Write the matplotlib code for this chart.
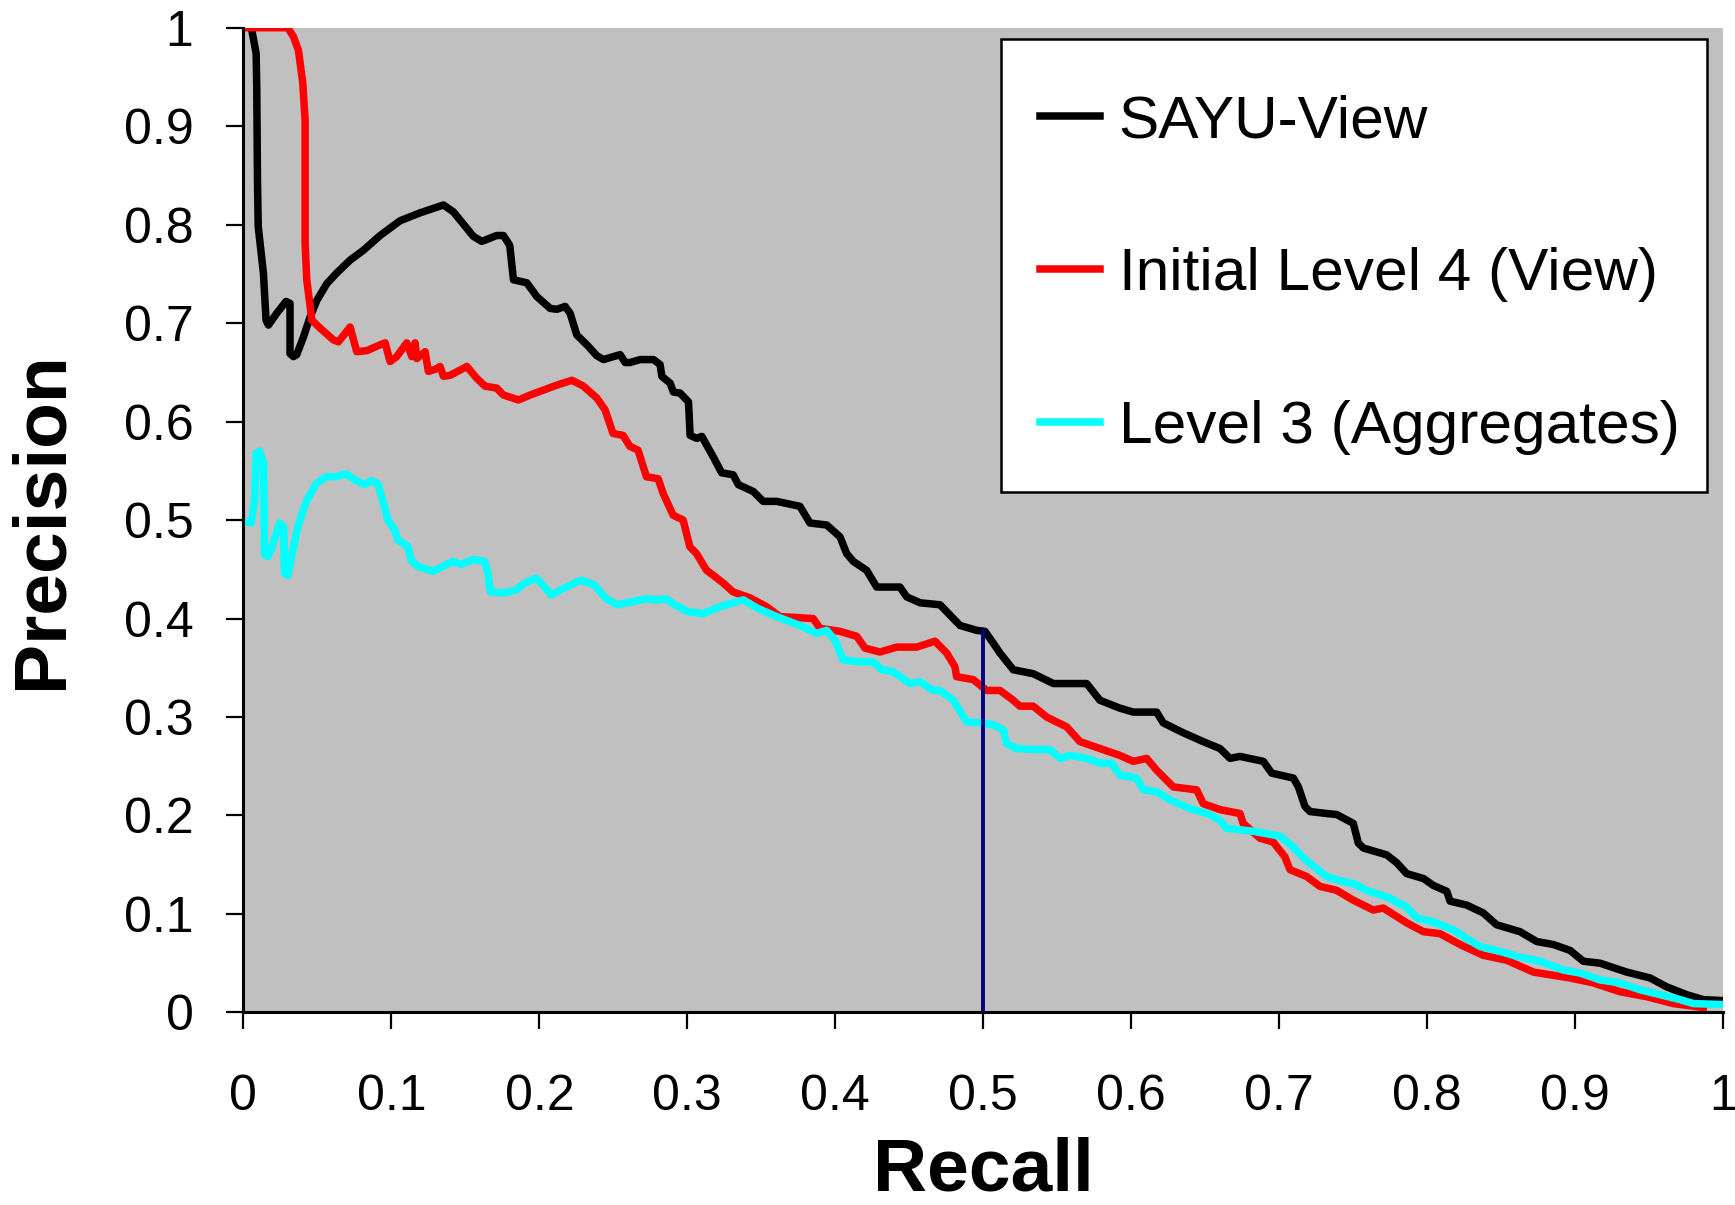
"""
Precision-recall curves: SAYU-View vs. Initial Level 4 (View) vs. Level 3 (Aggregates).
"""
import numpy as np
import matplotlib
matplotlib.use("Agg")
import matplotlib.pyplot as plt
from matplotlib.patches import Rectangle

plt.rcParams["font.family"] = ["Liberation Sans", "DejaVu Sans"]

# SAYU-View (black)
sayu_recall = [
    0.0045, 0.0056, 0.0086, 0.009, 0.0095, 0.010, 0.0135, 0.0153, 0.0169, 0.0225,
    0.0288, 0.0315, 0.0315, 0.0338, 0.036, 0.0406, 0.045, 0.0496, 0.0563, 0.0631,
    0.0721, 0.0811, 0.0924, 0.1059, 0.1194, 0.1352, 0.1419, 0.1555, 0.1611, 0.1712,
    0.1757, 0.180, 0.1825, 0.1915, 0.1983, 0.2073, 0.2118, 0.2174, 0.2208, 0.2253,
    0.2321, 0.2388, 0.2433, 0.2546, 0.258, 0.2613, 0.2681, 0.2771, 0.2816, 0.2828,
    0.2884, 0.2906, 0.2951, 0.3008, 0.3019, 0.3064, 0.3098, 0.3176, 0.3232, 0.331,
    0.3345, 0.3446, 0.3513, 0.3604, 0.3761, 0.3829, 0.3942, 0.4032, 0.4077, 0.4122,
    0.4212, 0.428, 0.4437, 0.4483, 0.4573, 0.4708, 0.4753, 0.4843, 0.4956, 0.5012,
    0.5068, 0.5113, 0.5203, 0.5338, 0.5474, 0.5699, 0.5789, 0.5924, 0.6014, 0.6172,
    0.6217, 0.6352, 0.6487, 0.66, 0.6668, 0.6735, 0.6893, 0.695, 0.7096, 0.713,
    0.7175, 0.7209, 0.7321, 0.7389, 0.7501, 0.7535, 0.7569, 0.7727, 0.7795, 0.7862,
    0.7975, 0.8042, 0.8133, 0.8155, 0.8268, 0.838, 0.847, 0.8628, 0.8741, 0.8853,
    0.8966, 0.9056, 0.9169, 0.9349, 0.9507, 0.9619, 0.9755, 0.9867, 1.0,
]
sayu_precision = [
    1.0, 0.998, 0.974, 0.940, 0.845, 0.798, 0.751, 0.703, 0.698, 0.710,
    0.722, 0.720, 0.669, 0.666, 0.668, 0.686, 0.706, 0.723, 0.740, 0.751,
    0.764, 0.774, 0.789, 0.804, 0.812, 0.820, 0.813, 0.788, 0.783, 0.789,
    0.789, 0.779, 0.744, 0.741, 0.727, 0.715, 0.714, 0.717, 0.710, 0.688,
    0.678, 0.667, 0.663, 0.668, 0.660, 0.660, 0.663, 0.663, 0.658, 0.646,
    0.639, 0.630, 0.629, 0.620, 0.586, 0.583, 0.585, 0.564, 0.548, 0.546,
    0.536, 0.529, 0.519, 0.519, 0.514, 0.497, 0.495, 0.483, 0.466, 0.458,
    0.449, 0.432, 0.432, 0.422, 0.416, 0.414, 0.407, 0.393, 0.388, 0.387,
    0.375, 0.365, 0.348, 0.344, 0.334, 0.334, 0.317, 0.309, 0.305, 0.305,
    0.294, 0.284, 0.275, 0.268, 0.258, 0.260, 0.255, 0.243, 0.238, 0.229,
    0.209, 0.204, 0.202, 0.201, 0.192, 0.172, 0.167, 0.160, 0.152, 0.141,
    0.136, 0.129, 0.123, 0.113, 0.109, 0.101, 0.089, 0.082, 0.072, 0.069,
    0.063, 0.052, 0.050, 0.041, 0.035, 0.026, 0.018, 0.013, 0.012,
]

# Initial Level 4 (View) (red)
view_recall = [
    0.0, 0.03, 0.0338, 0.0372, 0.0401, 0.0417, 0.0417, 0.0428, 0.0451, 0.0462,
    0.0518, 0.0608, 0.0642, 0.0721, 0.0766, 0.0834, 0.0924, 0.0958, 0.0991, 0.1036,
    0.1104, 0.1138, 0.116, 0.1172, 0.1228, 0.125, 0.1295, 0.1329, 0.1352, 0.1397,
    0.151, 0.1577, 0.1633, 0.1712, 0.1757, 0.1859, 0.1938, 0.2028, 0.2118, 0.2219,
    0.2298, 0.2388, 0.2444, 0.2498, 0.2566, 0.2611, 0.2667, 0.2724, 0.2803, 0.2837,
    0.2904, 0.2972, 0.3017, 0.3062, 0.3130, 0.3175, 0.3243, 0.331, 0.3424, 0.3536,
    0.3626, 0.3851, 0.3897, 0.4032, 0.4145, 0.4201, 0.4302, 0.4415, 0.455, 0.4674,
    0.4753, 0.4809, 0.482, 0.4933, 0.5023, 0.5113, 0.5203, 0.5248, 0.5338, 0.5429,
    0.5564, 0.5654, 0.5789, 0.5924, 0.6014, 0.6105, 0.6172, 0.6285, 0.6443, 0.6487,
    0.66, 0.6735, 0.6757, 0.687, 0.696, 0.7039, 0.7073, 0.7186, 0.7276, 0.7389,
    0.7501, 0.7636, 0.7704, 0.7862, 0.7975, 0.8087, 0.8222, 0.838, 0.8538, 0.8718,
    0.8966, 0.9124, 0.9304, 0.9484, 0.9664, 0.9867,
]
view_precision = [
    1.0, 1.0, 0.991, 0.977, 0.944, 0.906, 0.781, 0.744, 0.717, 0.703,
    0.695, 0.683, 0.681, 0.696, 0.671, 0.672, 0.678, 0.680, 0.661, 0.666,
    0.680, 0.666, 0.680, 0.664, 0.671, 0.651, 0.653, 0.656, 0.646, 0.647,
    0.656, 0.644, 0.636, 0.634, 0.627, 0.622, 0.627, 0.632, 0.637, 0.642,
    0.636, 0.624, 0.612, 0.588, 0.586, 0.575, 0.571, 0.544, 0.542, 0.527,
    0.505, 0.500, 0.473, 0.466, 0.449, 0.444, 0.436, 0.427, 0.421, 0.412,
    0.402, 0.400, 0.390, 0.387, 0.382, 0.370, 0.366, 0.371, 0.371, 0.377,
    0.365, 0.351, 0.341, 0.338, 0.327, 0.327, 0.317, 0.311, 0.311, 0.300,
    0.290, 0.275, 0.268, 0.261, 0.255, 0.258, 0.246, 0.229, 0.226, 0.212,
    0.206, 0.202, 0.192, 0.177, 0.173, 0.158, 0.145, 0.138, 0.128, 0.124,
    0.114, 0.104, 0.106, 0.091, 0.082, 0.080, 0.069, 0.058, 0.053, 0.041,
    0.035, 0.030, 0.021, 0.016, 0.009, 0.005,
]

# Level 3 (Aggregates) (cyan)
agg_recall = [
    0.0019, 0.0053, 0.0076, 0.0087, 0.011, 0.0136, 0.0143, 0.0166, 0.0188, 0.0245,
    0.0272, 0.0278, 0.0301, 0.0335, 0.0368, 0.0425, 0.0492, 0.056, 0.0627, 0.0695,
    0.074, 0.0819, 0.0864, 0.0909, 0.0954, 0.0977, 0.1022, 0.1044, 0.1112, 0.1134,
    0.1179, 0.128, 0.1348, 0.1416, 0.1472, 0.1551, 0.163, 0.1653, 0.1669, 0.1754,
    0.1844, 0.19, 0.1979, 0.2024, 0.2081, 0.2182, 0.2283, 0.2373, 0.2452, 0.2531,
    0.2621, 0.2723, 0.279, 0.2858, 0.2914, 0.3004, 0.3106, 0.3221, 0.3378, 0.348,
    0.3604, 0.3761, 0.3874, 0.3942, 0.3998, 0.4054, 0.4167, 0.4257, 0.4314, 0.4392,
    0.4505, 0.4573, 0.4662, 0.4708, 0.4798, 0.4888, 0.5001, 0.5068, 0.5136, 0.5158,
    0.5226, 0.5338, 0.5451, 0.5519, 0.5586, 0.5699, 0.5789, 0.5868, 0.5924, 0.6037,
    0.6082, 0.6172, 0.6262, 0.6397, 0.6532, 0.66, 0.6645, 0.6825, 0.7006, 0.7096,
    0.7163, 0.7254, 0.7321, 0.7434, 0.7501, 0.7592, 0.7749, 0.7862, 0.793, 0.8042,
    0.8177, 0.8268, 0.8357, 0.8493, 0.8606, 0.8763, 0.8921, 0.9034, 0.9169, 0.9304,
    0.9439, 0.9575, 0.971, 0.9799, 1.0,
]
agg_precision = [
    0.498, 0.497, 0.520, 0.568, 0.570, 0.558, 0.465, 0.463, 0.470, 0.497,
    0.493, 0.446, 0.444, 0.470, 0.493, 0.519, 0.537, 0.544, 0.544, 0.547,
    0.542, 0.536, 0.540, 0.537, 0.513, 0.500, 0.490, 0.480, 0.473, 0.459,
    0.453, 0.448, 0.453, 0.458, 0.455, 0.460, 0.458, 0.446, 0.427, 0.426,
    0.429, 0.436, 0.441, 0.434, 0.424, 0.432, 0.439, 0.434, 0.420, 0.414,
    0.417, 0.420, 0.419, 0.420, 0.414, 0.407, 0.405, 0.412, 0.419, 0.410,
    0.402, 0.393, 0.385, 0.388, 0.378, 0.358, 0.356, 0.356, 0.348, 0.346,
    0.334, 0.336, 0.327, 0.327, 0.317, 0.295, 0.294, 0.292, 0.287, 0.273,
    0.268, 0.267, 0.267, 0.258, 0.261, 0.258, 0.253, 0.253, 0.241, 0.238,
    0.226, 0.224, 0.216, 0.207, 0.201, 0.195, 0.187, 0.184, 0.179, 0.168,
    0.157, 0.146, 0.138, 0.133, 0.131, 0.124, 0.116, 0.107, 0.096, 0.092,
    0.084, 0.075, 0.067, 0.062, 0.057, 0.052, 0.043, 0.040, 0.033, 0.030,
    0.023, 0.018, 0.013, 0.009, 0.008,
]

# marker line at recall = 0.5
marker_recall = 0.5
marker_top = 0.387

ticks = [0, 0.1, 0.2, 0.3, 0.4, 0.5, 0.6, 0.7, 0.8, 0.9, 1]
tick_labels = ["0", "0.1", "0.2", "0.3", "0.4", "0.5", "0.6", "0.7", "0.8", "0.9", "1"]

fig = plt.figure(figsize=(17.35, 12.05), dpi=100)
ax = fig.add_axes([0.1403, 0.1598, 0.8528, 0.8172])
ax.set_facecolor("#C0C0C0")

lw = 5.4
ax.plot(sayu_recall, sayu_precision, color="black", lw=lw, label="SAYU-View")
ax.plot(view_recall, view_precision, color="#FF0000", lw=lw, label="Initial Level 4 (View)")
ax.plot(agg_recall, agg_precision, color="#00FFFF", lw=lw, label="Level 3 (Aggregates)")
ax.plot([marker_recall, marker_recall], [0, marker_top], color="#000080", lw=2.8)

ax.set_xlim(0, 1)
ax.set_ylim(0, 1)
ax.set_xticks(ticks)
ax.set_xticklabels(tick_labels)
ax.set_yticks(ticks)
ax.set_yticklabels(tick_labels)
ax.tick_params(axis="both", labelsize=36, length=12, width=1.6, color="black")
ax.tick_params(axis="x", pad=32)
ax.tick_params(axis="y", pad=24)

for side in ("top", "right"):
    ax.spines[side].set_visible(False)
for side in ("left", "bottom"):
    ax.spines[side].set_linewidth(2.2)
    ax.spines[side].set_color("black")

ax.set_xlabel("Recall", fontsize=54, fontweight="bold", labelpad=12)
ax.set_ylabel("Precision", fontsize=54, fontweight="bold", labelpad=34)

# legend box drawn separately so its padding can match the original
ax.add_patch(Rectangle((0.5123, 0.5281), 0.4771, 0.4607, transform=ax.transAxes,
                       facecolor="white", edgecolor="black", lw=1.8, zorder=4))
leg = ax.legend(
    loc="center left",
    bbox_to_anchor=(0.5384, 0.7490),
    fontsize=43.5,
    frameon=False,
    handlelength=1.0,
    handletextpad=0.3,
    labelspacing=1.62,
    borderpad=0,
    borderaxespad=0,
)
leg.set_zorder(5)

fig.savefig("out.png", dpi=100, facecolor="white")
